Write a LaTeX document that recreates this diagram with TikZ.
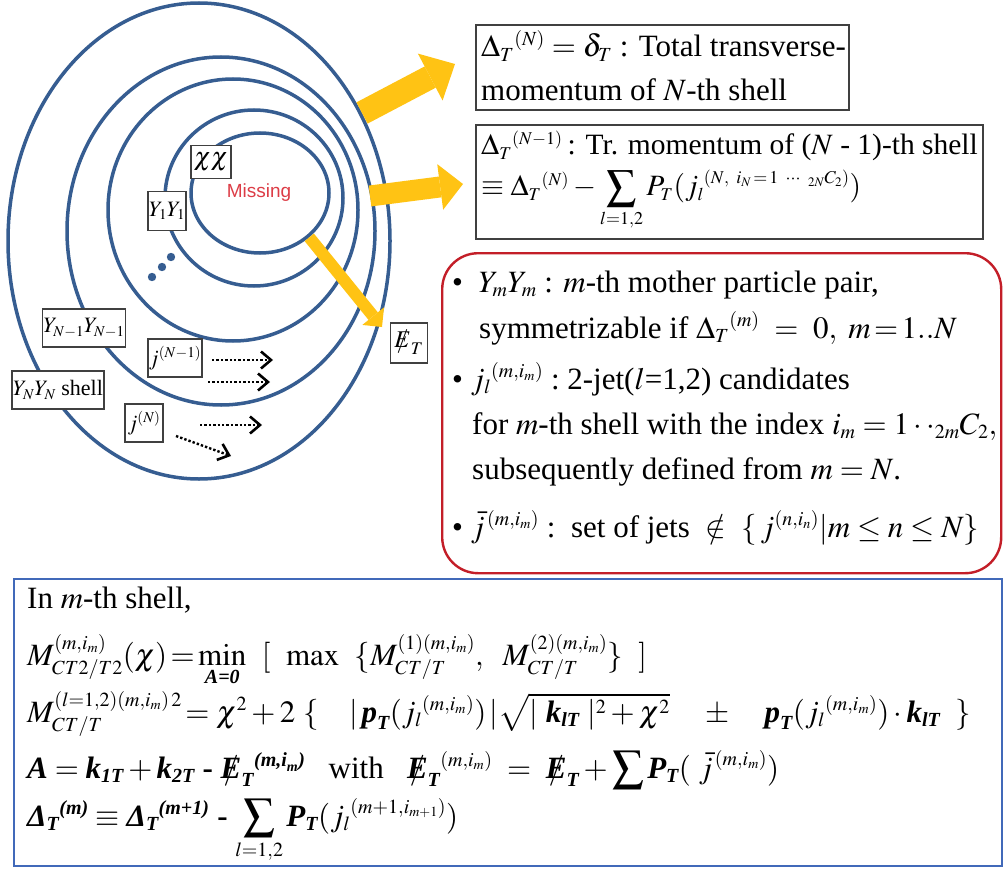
\documentclass[tikz,border=0pt]{standalone}
\usepackage{amsmath}
\usepackage{mathptmx}
\usepackage{fontspec}
\setmainfont{Liberation Serif}
\newfontfamily\missfont{Liberation Sans}
\usetikzlibrary{arrows.meta,positioning,calc,shapes.geometric}

\definecolor{shellblue}{RGB}{54,93,145}
\definecolor{gold}{RGB}{255,195,20}
\definecolor{notered}{RGB}{195,30,40}
\definecolor{missred}{RGB}{220,60,70}
\definecolor{formblue}{RGB}{65,105,185}

\DeclareMathSizes{31}{31}{20}{14}
\DeclareMathSizes{29.5}{29.5}{18}{13}
\DeclareMathSizes{22}{22}{15}{11}

\newcommand{\bi}[1]{\text{\bfseries\itshape #1}}
\newcommand{\slE}[1]{\mathord{\text{\ooalign{$#1$\cr\hidewidth$/$\hidewidth\cr}}}}
\newcommand{\bigtxt}{\fontsize{31}{40}\selectfont}
\newcommand{\lbltxt}{\fontsize{22}{26}\selectfont}

\begin{document}
\begin{tikzpicture}[x=1pt, y=-1pt,
    shell/.style={ellipse, draw=shellblue, line width=3.5pt, inner sep=0pt},
    lbl/.style={draw=black!75, fill=white, line width=1.3pt, inner sep=1pt, font=\lbltxt},
    infobox/.style={draw=black!75, line width=1.6pt, inner sep=0pt},
    txt/.style={anchor=base west, inner sep=0pt, font=\bigtxt},
    yarrow/.style={draw=gold},
    jetarrow/.style={dotted, line width=2.4pt, -{Straight Barb[length=10pt,width=17pt,line width=2.6pt]}}]
    \useasboundingbox (0,0) rectangle (1003,869);

    % shells, outermost first
    \node[shell, minimum width=382pt, minimum height=476pt] (shellN) at (199,241) {};
    \node[shell, minimum width=308pt, minimum height=348pt] (shellNm) at (221,231) {};
    \node[shell, minimum width=250pt, minimum height=262pt] (shellM) at (233,210) {};
    \node[shell, minimum width=178pt, minimum height=176pt] (shell1) at (254,198) {};
    \node[shell, minimum width=138pt, minimum height=120pt] (core) at (260,193) {};

    \node[font=\missfont\fontsize{19}{22}\selectfont, text=missred] (miss) at (259,193) {Missing};

    % dots between shells
    \foreach \p in {(152,277),(162,267),(171,257)}
        \fill[shellblue] \p circle (4.2pt);

    % labels on the shells
    \node[lbl, font=\fontsize{26}{28}\selectfont, minimum width=40pt, minimum height=33pt] (chi) at (211,162) {$\chi\chi$};
    \node[lbl, minimum width=33pt, minimum height=39pt] (y1) at (167,211) {$Y_1Y_1$};
    \node[lbl, minimum width=70pt, minimum height=38pt] (ynm) at (84,328) {$Y_{N-1}Y_{N-1}$};
    \node[lbl, minimum width=91pt, minimum height=38pt] (yn) at (58,390) {$Y_NY_N$ shell};
    \node[lbl, minimum width=50pt, minimum height=38pt] (jnm) at (175,358) {$j^{(N-1)}$};
    \node[lbl, minimum width=38pt, minimum height=38pt] (jn) at (144,423) {$j^{(N)}$};
    \node[lbl, font=\fontsize{24}{26}\selectfont, minimum width=37pt, minimum height=40pt] (met) at (409,343) {$\slE{E}_T$};

    % jets
    \coordinate (j1s) at (212,360); \coordinate (j1e) at (273,360);
    \coordinate (j2s) at (208,382); \coordinate (j2e) at (270,382);
    \coordinate (j3s) at (200,425); \coordinate (j3e) at (262,425);
    \coordinate (j4s) at (176,436); \coordinate (j4e) at (231,456);
    \draw[jetarrow] (j1s) -- (j1e);
    \draw[jetarrow] (j2s) -- (j2e);
    \draw[jetarrow] (j3s) -- (j3e);
    \draw[jetarrow] (j4s) -- (j4e);

    % yellow arrows
    \coordinate (a1s) at (362,113); \coordinate (a1e) at (455,64);
    \coordinate (a2s) at (370,196); \coordinate (a2e) at (463,184);
    \coordinate (a3e) at (382,327);
    \draw[yarrow, line width=24pt, -{Triangle[length=28pt,width=53pt,line width=0pt]}] (a1s) -- (a1e);
    \draw[yarrow, line width=21pt, -{Triangle[length=23pt,width=46pt,line width=0pt]}] (a2s) -- (a2e);
    \draw[yarrow, line width=12pt, -{Triangle[length=14pt,width=28pt,line width=0pt]}] (core.-42) -- (a3e);

    % Delta boxes
    \node[infobox, anchor=north west, minimum width=373pt, minimum height=85pt] (dN) at (475,24) {};
    \node[txt] (dN1) at (481,57) {$\Delta_T{}^{(N)} = \delta_T$ : Total transverse-};
    \node[txt] (dN2) at (481,101) {momentum of $N$-th shell};

    \node[infobox, anchor=north west, minimum width=507pt, minimum height=114pt] (dNm) at (475,124) {};
    \node[txt, font=\fontsize{29.5}{36}\selectfont] (dNm1) at (481,155) {$\Delta_T{}^{(N-1)}$\,: Tr. momentum of ($N$ - 1)-th shell};
    \node[txt, font=\fontsize{29.5}{36}\selectfont] (dNm2) at (481,196) {$\equiv \Delta_T{}^{(N)} - \displaystyle\sum_{l=1,2} P_T(j_l{}^{(N,\ i_N\,=\,1\ \cdots\ {}_{2N}C_2)})$};

    % notes
    \node[draw=notered, line width=2.4pt, rounded corners=36pt, anchor=north west,
          minimum width=559pt, minimum height=320pt] (notes) at (441,252) {};
    \node[txt] (n1) at (452,292) {\textbullet\ \ $Y_mY_m$ : $m$-th mother particle pair,};
    \node[txt] (n2) at (479,338) {symmetrizable if $\Delta_T{}^{(m)}\ =\ 0,\ m\!=\!1..N$};
    \node[txt] (n3) at (452,389) {\textbullet\ $j_l{}^{(m,i_m)}$ :\ 2-jet($l$=1,2) candidates};
    \node[txt] (n4) at (472,434) {for $m$-th shell with the index $i_m = 1\cdot\cdot{}_{2m}C_2,$};
    \node[txt] (n5) at (472,479) {subsequently defined from $m = N$.};
    \node[txt] (n6) at (452,537) {\textbullet\ $\bar{j}^{\,(m,i_m)}$ :\ \ set of jets\ \ $\notin$\ \ $\{\,j^{(n,i_n)}|m\le n\le N\}$};

    % m-th shell formulas
    \node[draw=formblue, line width=2pt, anchor=north west, minimum width=988pt, minimum height=287pt] (form) at (13,578) {};
    \node[txt] (f1) at (27,608) {In $m$-th shell,};
    \node[txt] (f2) at (27,665) {$M^{(m,i_m)}_{CT2/T2}(\chi)\!=\!\min\limits_{\bi{A=0}}\ \ [\ \ \max\ \ \{M^{(1)(m,i_m)}_{CT/T},\ \ M^{(2)(m,i_m)}_{CT/T}\}\ \ ]$};
    \node[txt] (f3) at (27,722) {$M^{(l=1,2)(m,i_m)\,2}_{CT/T}\!=\chi^2+2\ \{\quad|\,\bi{p}_{\bi{T}}(j_l{}^{(m,i_m)})\,|\sqrt{|\ \bi{k}_{\bi{lT}}\ |^2+\chi^2}\quad\pm\quad\bi{p}_{\bi{T}}(j_l{}^{(m,i_m)})\cdot\bi{k}_{\bi{lT}}\ \ \}$};
    \node[txt] (f4) at (27,778) {$\bi{A} = \bi{k}_{\bi{1T}} + \bi{k}_{\bi{2T}}$ \textbf{-} $\slE{\bi{E}}_{\bi{T}}{}^{\bi{(m,i}_{\bi{m}}\bi{)}}$\ \ \ with\ \ \ $\slE{\bi{E}}_{\bi{T}}{}^{(m,i_m)} \ =\ \slE{\bi{E}}_{\bi{T}} + \displaystyle\sum \bi{P}_{\bi{T}}(\ \bar{j}^{\,(m,i_m)})$};
    \node[txt] (f5) at (27,826) {$\bi{Δ}_{\bi{T}}{}^{\bi{(m)}} \equiv \bi{Δ}_{\bi{T}}{}^{\bi{(m+1)}}$ \textbf{-} $\displaystyle\sum_{l=1,2}\bi{P}_{\bi{T}}(j_l{}^{(m+1,i_{m+1})})$};
\end{tikzpicture}
\end{document}
